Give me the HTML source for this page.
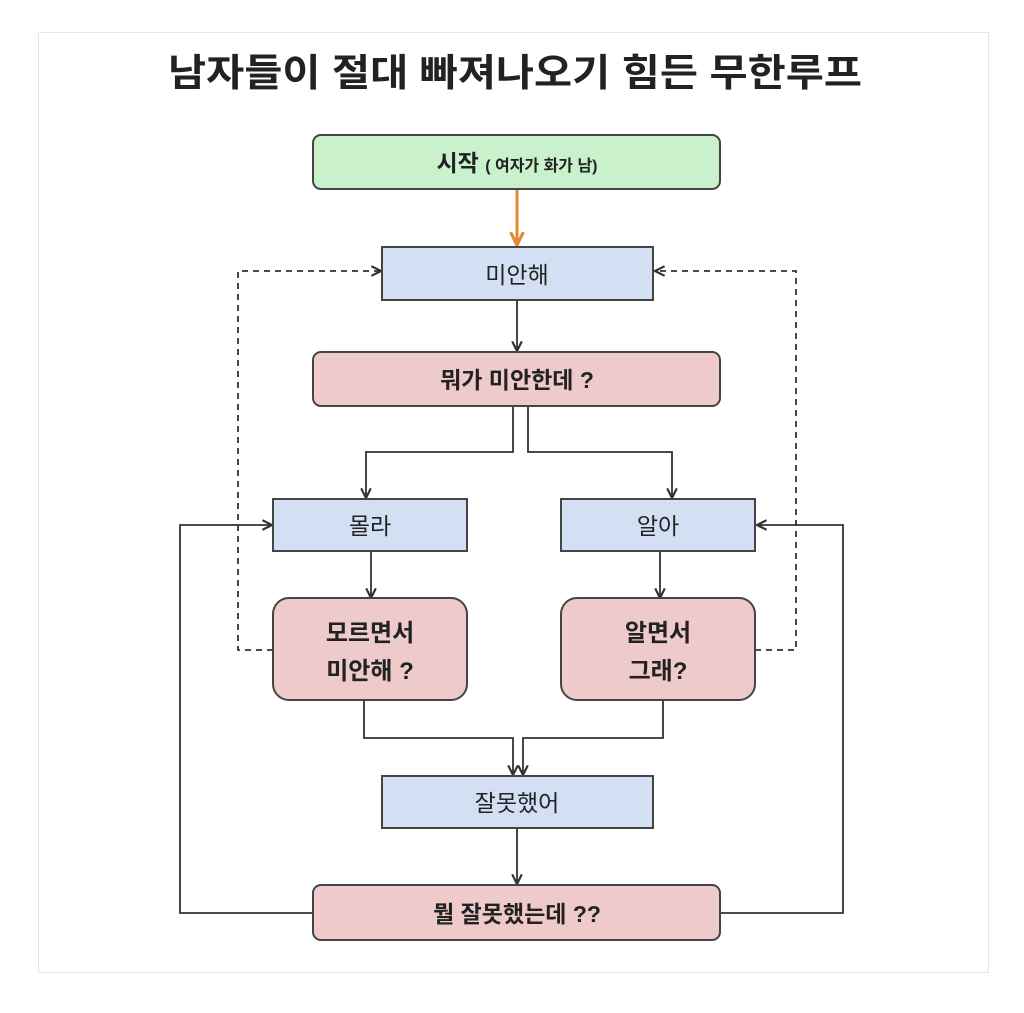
<!DOCTYPE html>
<html><head><meta charset="utf-8"><style>
body{margin:0;background:#fff;}
svg{display:block}
text{font-family:"Liberation Sans","Noto Sans CJK KR","NanumGothic",sans-serif;fill:#222}
</style></head><body>
<svg width="1024" height="1013" viewBox="0 0 1024 1013" xmlns="http://www.w3.org/2000/svg">
<defs>
<marker id="a" viewBox="0 0 10 10" refX="9" refY="5" markerWidth="12" markerHeight="12" orient="auto" markerUnits="userSpaceOnUse"><path d="M1,1 L9,5 L1,9" fill="none" stroke="#333" stroke-width="1.8"/></marker>
<marker id="o" viewBox="0 0 10 10" refX="9" refY="5" markerWidth="16" markerHeight="16" orient="auto" markerUnits="userSpaceOnUse"><path d="M1,1 L9,5 L1,9" fill="none" stroke="#e08a3a" stroke-width="2"/></marker>
</defs>
<rect x="38.5" y="32.5" width="950" height="940" fill="#fff" stroke="#e6e6e6"/>
<text x="168" y="86" font-size="38" font-weight="bold" fill="#222" textLength="694" lengthAdjust="spacingAndGlyphs">남자들이 절대 빠져나오기 힘든 무한루프</text>

<g stroke="#333" stroke-width="1.8" fill="none">
<line x1="517" y1="190" x2="517" y2="245" stroke="#e08a3a" stroke-width="3" marker-end="url(#o)"/>
<line x1="517" y1="300" x2="517" y2="351" marker-end="url(#a)"/>
<polyline points="513,406 513,452 366,452 366,498" marker-end="url(#a)"/>
<polyline points="528,406 528,452 672,452 672,498" marker-end="url(#a)"/>
<line x1="371" y1="551" x2="371" y2="598" marker-end="url(#a)"/>
<line x1="660" y1="551" x2="660" y2="598" marker-end="url(#a)"/>
<polyline points="364,700 364,738 513,738 513,775" marker-end="url(#a)"/>
<polyline points="663,700 663,738 523,738 523,775" marker-end="url(#a)"/>
<line x1="517" y1="828" x2="517" y2="884" marker-end="url(#a)"/>
<polyline points="313,913 180,913 180,525 272,525" marker-end="url(#a)"/>
<polyline points="720,913 843,913 843,525 757,525" marker-end="url(#a)"/>
<g stroke-dasharray="6,5">
<polyline points="273,650 238,650 238,271 381,271" marker-end="url(#a)"/>
<polyline points="755,650 796,650 796,271 655,271" marker-end="url(#a)"/>
</g>
</g>

<g stroke="#444" stroke-width="2">
<rect x="313" y="135" width="407" height="54" rx="8" fill="#c9f2cc"/>
<rect x="382" y="247" width="271" height="53" fill="#d3e0f3"/>
<rect x="313" y="352" width="407" height="54" rx="8" fill="#efcaca"/>
<rect x="273" y="499" width="194" height="52" fill="#d3e0f3"/>
<rect x="561" y="499" width="194" height="52" fill="#d3e0f3"/>
<rect x="273" y="598" width="194" height="102" rx="16" fill="#efcaca"/>
<rect x="561" y="598" width="194" height="102" rx="16" fill="#efcaca"/>
<rect x="382" y="776" width="271" height="52" fill="#d3e0f3"/>
<rect x="313" y="885" width="407" height="55" rx="8" fill="#efcaca"/>
</g>

<text x="517" y="171" text-anchor="middle" font-weight="bold"><tspan font-size="23">시작 </tspan><tspan font-size="16">( 여자가 화가 남)</tspan></text>
<text x="517" y="283" text-anchor="middle" font-size="23">미안해</text>
<text x="517" y="388" text-anchor="middle" font-size="23" font-weight="bold">뭐가 미안한데 ?</text>
<text x="370" y="534" text-anchor="middle" font-size="23">몰라</text>
<text x="658" y="534" text-anchor="middle" font-size="23">알아</text>
<text x="370" y="641" text-anchor="middle" font-size="24" font-weight="bold">모르면서</text>
<text x="370" y="679" text-anchor="middle" font-size="24" font-weight="bold">미안해 ?</text>
<text x="658" y="641" text-anchor="middle" font-size="24" font-weight="bold">알면서</text>
<text x="658" y="679" text-anchor="middle" font-size="24" font-weight="bold">그래?</text>
<text x="517" y="811" text-anchor="middle" font-size="23">잘못했어</text>
<text x="517" y="922" text-anchor="middle" font-size="23" font-weight="bold">뭘 잘못했는데 ??</text>
</svg>
</body></html>
